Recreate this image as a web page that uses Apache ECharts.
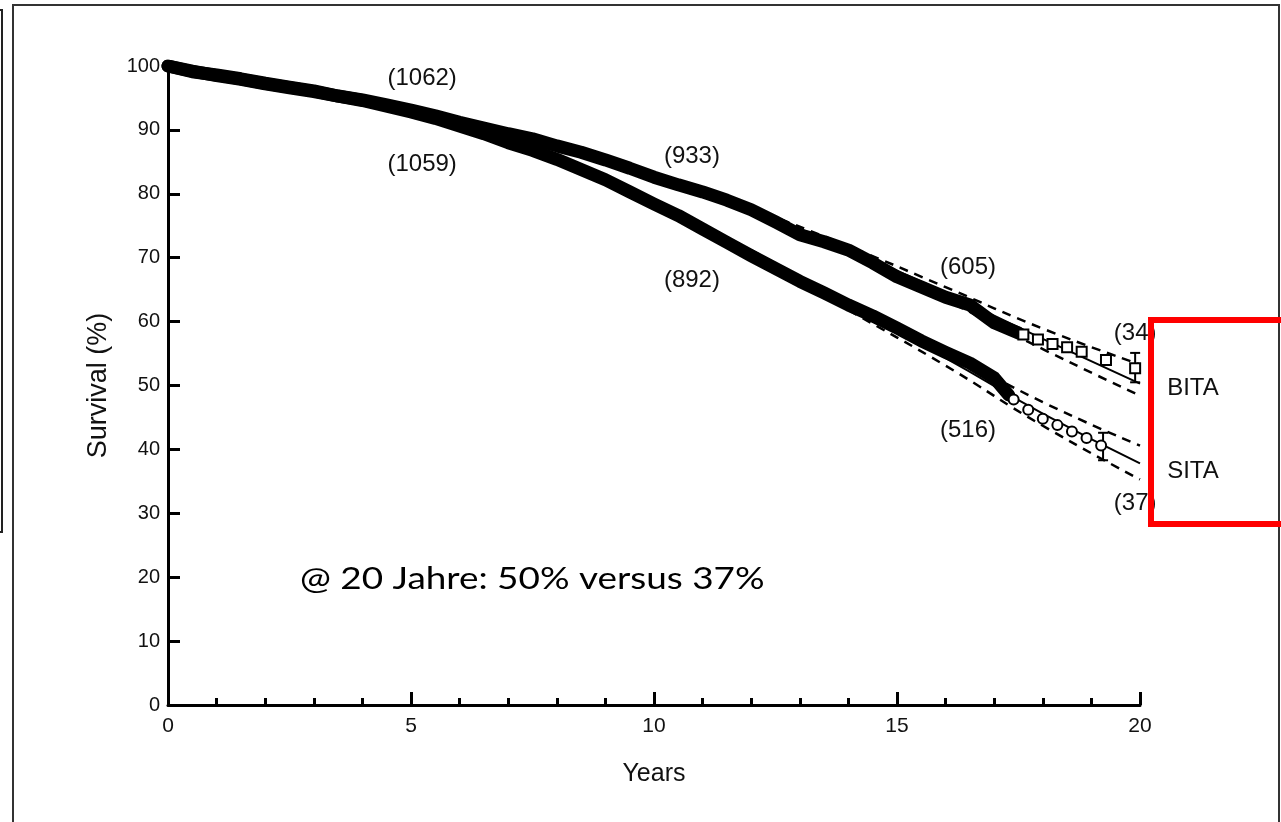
<!DOCTYPE html>
<html>
<head>
<meta charset="utf-8">
<title>Survival BITA vs SITA</title>
<script src="https://cdn.jsdelivr.net/npm/echarts@6/dist/echarts.min.js"></script>
<style>
  html, body { margin: 0; padding: 0; background: #fff; }
  #chart { width: 1281px; height: 822px; }
</style>
</head>
<body>
<div id="chart"></div>
<script>
// Kaplan-Meier survival (%) by follow-up year
const bitaKM = [
  [0, 100], [0.5, 99.1], [1, 98.6], [1.5, 98.0], [2, 97.3], [2.5, 96.7], [3, 96.1],
  [3.5, 95.3], [4, 94.7], [4.5, 93.9], [5, 93.1], [5.5, 92.2], [6, 91.2], [6.5, 90.3],
  [7, 89.4], [7.5, 88.6], [8, 87.5], [8.5, 86.5], [9, 85.3], [9.5, 84.0], [10, 82.6],
  [10.5, 81.4], [11, 80.3], [11.5, 79.0], [12, 77.5], [12.5, 75.6], [13, 73.6],
  [13.5, 72.5], [14, 71.2], [14.5, 69.2], [15, 67.0], [15.5, 65.4], [16, 63.8],
  [16.5, 62.6], [17, 59.8], [17.5, 58.2]
];
const sitaKM = [
  [0, 100], [0.5, 99.2], [1, 98.5], [1.5, 97.9], [2, 97.2], [2.5, 96.6], [3, 96.0],
  [3.5, 95.3], [4, 94.6], [4.5, 93.7], [5, 92.8], [5.5, 91.8], [6, 90.6], [6.5, 89.4],
  [7, 88.0], [7.5, 86.8], [8, 85.4], [8.5, 83.8], [9, 82.2], [9.5, 80.3], [10, 78.4],
  [10.5, 76.6], [11, 74.5], [11.5, 72.4], [12, 70.3], [12.5, 68.3], [13, 66.3],
  [13.5, 64.5], [14, 62.6], [14.5, 60.9], [15, 59.0], [15.5, 57.0], [16, 55.2],
  [16.5, 53.5], [17, 51.2], [17.3, 48.5]
];
// individual censored observations in the tail
const bitaTail = [[17.6, 58.0], [17.9, 57.2], [18.2, 56.5], [18.5, 56.0], [18.8, 55.3], [19.3, 54.0], [19.9, 52.7]];
const sitaTail = [[17.4, 47.8], [17.7, 46.2], [18.0, 44.8], [18.3, 43.8], [18.6, 42.8], [18.9, 41.8], [19.2, 40.6]];

// parametric fit with 95% confidence limits
const bitaFit = [[0, 100], [2, 97.4], [4, 94.6], [6, 91.2], [8, 87.4], [10, 82.8], [12, 77.5], [14, 71.3], [16, 64.5], [18, 57.3], [20, 50.3]];
const bitaUpper = [[12, 77.8], [14, 71.8], [16, 65.4], [18, 58.9], [20, 53.3]];
const bitaLower = [[12, 77.2], [14, 70.7], [16, 63.4], [18, 55.7], [20, 48.4]];
const sitaFit = [[0, 100], [2, 97.3], [4, 94.4], [6, 90.6], [8, 85.5], [10, 78.8], [12, 70.8], [14, 62.4], [16, 54.3], [18, 45.6], [20, 37.8]];
const sitaUpper = [[12, 71.2], [14, 63.0], [16, 55.4], [18, 47.4], [20, 40.6]];
const sitaLower = [[12, 70.4], [14, 61.8], [16, 53.1], [18, 43.7], [20, 35.3]];

// error bars: [year, low, high]
const errBars = [[19.9, 50.5, 55.1], [19.24, 38.3, 42.6]];

// patients at risk and group names: [year, survival, text]
const riskLabels = [
  [5.23, 98.1, '(1062)'], [5.23, 84.6, '(1059)'],
  [10.78, 85.8, '(933)'], [10.78, 66.5, '(892)'],
  [16.46, 68.5, '(605)'], [16.46, 42.9, '(516)'],
  [19.9, 58.2, '(34)'], [19.9, 31.6, '(37)']
];
const groupLabels = [[21.09, 49.6, 'BITA'], [21.09, 36.5, 'SITA']];

const xTicks = { min: 0, max: 20, interval: 5 };
const yTicks = { min: 0, max: 100, interval: 10 };
const note = '@ 20 Jahre: 50% versus 37%';

const FONT = '"Liberation Sans", Arial, Helvetica, sans-serif';
const INK = '#111';

const chart = echarts.init(document.getElementById('chart'), null, { renderer: 'canvas' });

function bandSeries(data) {
  return {
    type: 'line', data: data, showSymbol: false, smooth: false,
    lineStyle: { color: '#000', width: 13, join: 'round', cap: 'round' },
    z: 4, silent: true
  };
}
function fitSeries(data, dashed) {
  return {
    type: 'line', data: data, showSymbol: false, smooth: true,
    lineStyle: { color: '#000', width: dashed ? 2.5 : 2, type: dashed ? [9, 7] : 'solid' },
    z: 3, silent: true
  };
}
function tailSeries(data, symbol) {
  return {
    type: 'scatter', data: data, symbol: symbol, symbolSize: 10,
    itemStyle: { color: '#fff', borderColor: '#000', borderWidth: 2, opacity: 1 },
    z: 5, silent: true
  };
}
function textSeries(data, size) {
  return {
    type: 'scatter', data: data, symbolSize: 0, clip: false, silent: true, z: 6,
    itemStyle: { opacity: 1 },
    label: {
      show: true, position: 'inside', formatter: p => p.data[2],
      fontFamily: FONT, fontSize: size, color: INK
    }
  };
}

chart.setOption({
  animation: false,
  backgroundColor: '#fff',
  grid: { left: 168, right: 141, top: 66, bottom: 117, containLabel: false },
  xAxis: {
    type: 'value', min: xTicks.min, max: xTicks.max, interval: xTicks.interval,
    name: 'Years', nameLocation: 'middle', nameGap: 57,
    nameTextStyle: { fontFamily: FONT, fontSize: 25, color: INK },
    axisLine: { lineStyle: { color: '#000', width: 3 } },
    axisTick: { inside: true, length: 13, lineStyle: { color: '#000', width: 3 } },
    minorTick: { show: true, splitNumber: 5, length: 7, lineStyle: { color: '#000', width: 3 } },
    axisLabel: { fontFamily: FONT, fontSize: 21, color: INK, margin: 11 },
    splitLine: { show: false }
  },
  yAxis: {
    type: 'value', min: yTicks.min, max: yTicks.max, interval: yTicks.interval,
    name: 'Survival (%)', nameLocation: 'middle', nameGap: 56, nameRotate: 90,
    nameTextStyle: { fontFamily: FONT, fontSize: 27, color: INK },
    axisLine: { lineStyle: { color: '#000', width: 3 } },
    axisTick: { inside: true, length: 12, lineStyle: { color: '#000', width: 3 } },
    axisLabel: { fontFamily: FONT, fontSize: 20, color: INK, margin: 8 },
    splitLine: { show: false }
  },
  series: [
    fitSeries(bitaUpper, true), fitSeries(bitaLower, true),
    fitSeries(sitaUpper, true), fitSeries(sitaLower, true),
    fitSeries(bitaFit, false), fitSeries(sitaFit, false),
    bandSeries(bitaKM), bandSeries(sitaKM),
    tailSeries(bitaTail, 'rect'), tailSeries(sitaTail, 'circle'),
    {
      type: 'custom', data: errBars, z: 5, silent: true,
      renderItem: function (params, api) {
        const lo = api.coord([api.value(0), api.value(1)]);
        const hi = api.coord([api.value(0), api.value(2)]);
        const w = 5;
        const st = { stroke: '#000', lineWidth: 2 };
        return {
          type: 'group', children: [
            { type: 'line', shape: { x1: lo[0], y1: lo[1], x2: hi[0], y2: hi[1] }, style: st },
            { type: 'line', shape: { x1: lo[0] - w, y1: lo[1], x2: lo[0] + w, y2: lo[1] }, style: st },
            { type: 'line', shape: { x1: hi[0] - w, y1: hi[1], x2: hi[0] + w, y2: hi[1] }, style: st }
          ]
        };
      }
    },
    textSeries(riskLabels, 24),
    textSeries(groupLabels, 24)
  ],
  graphic: [
    { type: 'rect', shape: { x: 13, y: 5, width: 1266, height: 840 },
      style: { fill: 'none', stroke: '#333', lineWidth: 2 }, silent: true, z: 0 },
    { type: 'rect', shape: { x: -20, y: 10, width: 22, height: 522 },
      style: { fill: 'none', stroke: '#222', lineWidth: 2 }, silent: true, z: 0 },
    { type: 'rect', shape: { x: 1151, y: 320, width: 150, height: 204 },
      style: { fill: 'none', stroke: '#ff0000', lineWidth: 6 }, silent: true, z: 10 },
    { type: 'text', x: 300, y: 563, scaleX: 1.19,
      style: { text: note, font: '31px Lato, "Open Sans", sans-serif', fill: '#000' }, z: 10 }
  ]
});
</script>
</body>
</html>
